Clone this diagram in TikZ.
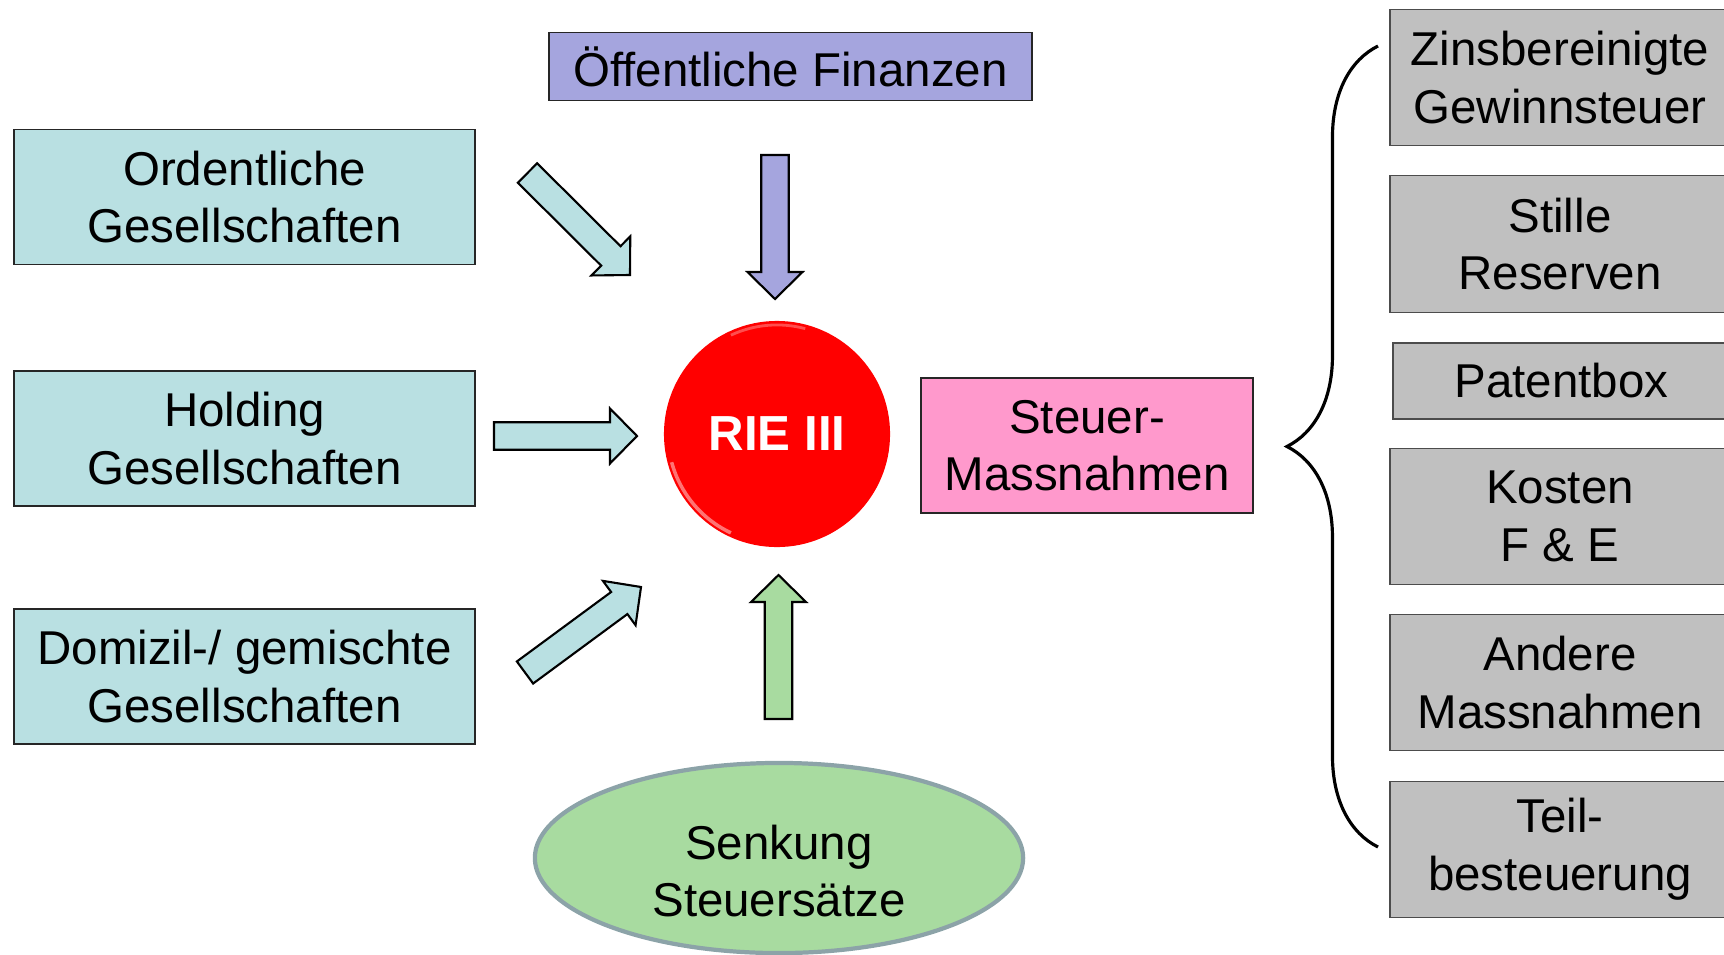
\documentclass[tikz,border=0pt]{standalone}
\usepackage{fontspec}
\setmainfont{Liberation Sans}
\usetikzlibrary{calc,positioning,shapes.geometric,decorations.pathreplacing}
\definecolor{tuerkis}{HTML}{B9E0E2}
\definecolor{lila}{HTML}{A5A5DE}
\definecolor{rosa}{HTML}{FF99CC}
\definecolor{gruen}{HTML}{A8DBA0}
\definecolor{grau}{HTML}{C0C0C0}
\definecolor{rand}{HTML}{8CA3A8}
\newcommand{\blockarrow}[3]{% tail, tip, colour
  \coordinate (hb) at ($(#2)!0.27cm!(#1)$);
  \draw[pfeil,fill=#3] ($(#1)!0.137cm!90:(#2)$) -- ($(hb)!0.137cm!90:(#2)$)
    -- ($(hb)!0.275cm!90:(#2)$) -- (#2) -- ($(hb)!0.275cm!-90:(#2)$)
    -- ($(hb)!0.137cm!-90:(#2)$) -- ($(#1)!0.137cm!-90:(#2)$) -- cycle;}

\begin{document}
\begin{tikzpicture}[x=0.01cm,y=-0.01cm,
  txt/.style={align=center,inner sep=0pt,font=\fontsize{13.5}{16.4}\selectfont},
  box/.style={txt,rectangle,draw=black!85,line width=0.5pt},
  lbox/.style={box,fill=tuerkis,minimum width=4.61cm,minimum height=1.35cm},
  gbox/.style={box,fill=grau,draw=black!70,minimum width=3.4cm,minimum height=1.36cm},
  pfeil/.style={draw=black,line width=0.6pt,line join=miter}]
\useasboundingbox (0,0) rectangle (1724,954);
% left column
\node[lbox] (ord) at (244.5,197) {Ordentliche\\Gesellschaften};
\node[lbox] (hold) at (244.5,438.5) {Holding\\Gesellschaften};
\node[lbox] (dom) at (244.5,676.5) {Domizil-/ gemischte\\Gesellschaften};
% centre
\node[box,fill=lila,minimum width=4.83cm,minimum height=0.68cm] (oeff) at (790.5,66.5) {Öffentliche Finanzen};
\node[circle,fill=red,minimum size=2.26cm,inner sep=0pt,text=white,
  font=\fontsize{14}{16}\selectfont\bfseries] (rie) at (777,434) {RIE III};
\draw[white,opacity=0.45,line width=1pt] ($(rie)+(195:1.09cm)$) arc (195:245:1.09cm);
\draw[white,opacity=0.3,line width=0.8pt] ($(rie)+(75:1.09cm)$) arc (75:115:1.09cm);
\node[box,fill=rosa,minimum width=3.32cm,minimum height=1.35cm] (mass) at (1087,445.5) {Steuer-\\Massnahmen};
\node[ellipse,draw=rand,line width=1.2pt,fill=gruen,minimum width=4.88cm,
  minimum height=1.9cm,label={[txt,yshift=-0.13cm]center:{Senkung\\Steuersätze}}] (senk) at (779,858) {};
% block arrows
\coordinate (t1) at (527.5,173); \coordinate (p1) at (630,275);
\coordinate (t2) at (775,155);   \coordinate (p2) at (775,299);
\coordinate (t3) at (494,436);   \coordinate (p3) at (637,436);
\coordinate (t4) at (525,672.5); \coordinate (p4) at (641,587);
\coordinate (t5) at (778.5,719); \coordinate (p5) at (778.5,575);
\foreach \n/\c in {1/tuerkis,2/lila,3/tuerkis,4/tuerkis,5/gruen}
  \blockarrow{t\n}{p\n}{\c};
% right column
\node[gbox] (zins) at (1560,77.5) {Zinsbereinigte\\Gewinnsteuer};
\node[gbox,minimum height=1.37cm] (still) at (1560,244) {Stille\\Reserven};
\node[gbox,minimum width=3.37cm,minimum height=0.76cm] (pat) at (1561.5,381) {Patentbox};
\node[gbox] (kost) at (1560,516.5) {Kosten\\F \& E};
\node[gbox] (and) at (1560,682.5) {Andere\\Massnahmen};
\node[gbox] (teil) at (1560,849.5) {Teil-\\besteuerung};
\coordinate (bt) at (1378,46);
\coordinate (bb) at (1378,847);
\draw[decorate,decoration={brace,amplitude=0.91cm},line width=0.9pt] (bb) -- (bt);
\end{tikzpicture}
\end{document}
